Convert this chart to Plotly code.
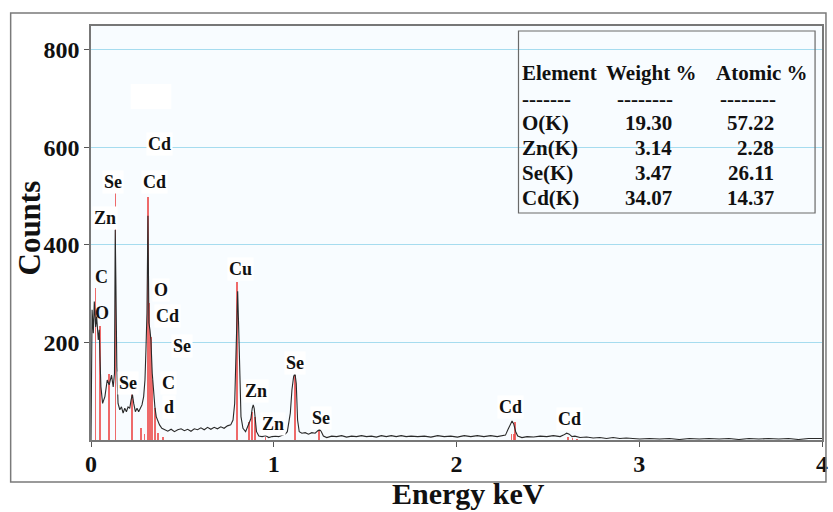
import plotly.graph_objects as go

# ---- spectrum (black trace) ----
energy = [0.0, 0.003, 0.006, 0.0127, 0.0181, 0.0254, 0.0308, 0.0399, 0.0453, 0.0489, 0.0543,
          0.0634, 0.0761, 0.0888, 0.0996, 0.1123, 0.1214, 0.1286, 0.1308, 0.1326, 0.136, 0.1413,
          0.148, 0.1576, 0.1667, 0.1757, 0.1848, 0.1938, 0.2029, 0.212, 0.2192, 0.2264, 0.2337,
          0.2428, 0.2518, 0.2609, 0.27, 0.279, 0.2881, 0.2953, 0.3007, 0.3062, 0.3116, 0.317,
          0.3225, 0.3279, 0.3351, 0.3424, 0.3496, 0.3569, 0.3659, 0.375, 0.3877, 0.4022, 0.4203,
          0.4384, 0.4565, 0.4746, 0.4928, 0.5109, 0.529, 0.5471, 0.5652, 0.5833, 0.6014, 0.6196,
          0.6377, 0.6558, 0.6739, 0.692, 0.7101, 0.7283, 0.7464, 0.7645, 0.7772, 0.7862, 0.7935,
          0.7989, 0.8025, 0.808, 0.8134, 0.8207, 0.8315, 0.846, 0.8569, 0.8678, 0.875, 0.8822,
          0.8877, 0.8931, 0.8986, 0.9058, 0.9185, 0.9366, 0.9547, 0.9728, 0.9909, 1.009, 1.0272,
          1.0453, 1.0634, 1.0743, 1.0815, 1.0906, 1.0996, 1.1087, 1.1159, 1.1232, 1.1304, 1.1395,
          1.154, 1.1721, 1.1902, 1.2083, 1.2264, 1.2391, 1.25, 1.2591, 1.2717, 1.2899, 1.317,
          1.3442, 1.3714, 1.3986, 1.4257, 1.4529, 1.4801, 1.5072, 1.5344, 1.5616, 1.5888, 1.6159,
          1.6431, 1.6703, 1.6975, 1.7246, 1.7518, 1.788, 1.824, 1.86, 1.897, 1.933, 1.969, 2.005,
          2.042, 2.078, 2.114, 2.15, 2.187, 2.223, 2.25, 2.268, 2.281, 2.292, 2.304, 2.313, 2.324,
          2.335, 2.358, 2.386, 2.422, 2.458, 2.494, 2.53, 2.567, 2.585, 2.603, 2.617, 2.632, 2.648,
          2.676, 2.712, 2.748, 2.784, 2.821, 2.857, 2.893, 2.929, 2.966, 3.002, 3.056, 3.111,
          3.165, 3.219, 3.274, 3.328, 3.382, 3.437, 3.491, 3.545, 3.6, 3.654, 3.708, 3.763,
          3.817, 3.871, 3.926, 3.98, 4.0]
counts = [0, 150, 267, 219, 284, 232, 253, 205, 226, 171, 109,
          75, 89, 123, 113, 133, 109, 137, 300, 431, 330, 150,
          75, 62, 68, 55, 65, 58, 68, 65, 82, 94, 75,
          58, 65, 58, 65, 72, 89, 123, 185, 260, 460, 240,
          226, 205, 137, 89, 68, 48, 38, 31, 24, 21, 18,
          22, 17, 21, 23, 19, 22, 18, 23, 21, 25, 21,
          26, 22, 26, 23, 27, 24, 29, 31, 41, 75, 185,
          274, 305, 232, 123, 48, 24, 17, 27, 36, 44, 65,
          72, 65, 41, 17, 8, 7, 9, 5, 7, 8, 7,
          9, 12, 17, 31, 55, 103, 130, 137, 116, 41, 17,
          14, 15, 12, 15, 14, 19, 22, 18, 8, 5, 8,
          7, 9, 6, 8, 7, 9, 7, 8, 6, 9, 7,
          9, 7, 9, 7, 8, 7, 8, 6, 9, 7, 8, 6,
          9, 7, 9, 7, 9, 7, 8, 10, 21, 29, 39, 33, 17,
          8, 5, 7, 6, 8, 7, 9, 7, 10, 14, 12, 7, 8,
          5, 6, 4, 5, 3, 5, 3, 4, 3, 2, 3, 2,
          3, 1, 3, 2, 3, 2, 3, 1, 3, 2, 3, 2,
          3, 1, 3, 2, 3]

# ---- element marker lines (red) ----
line_energy = [0.025, 0.049, 0.10, 0.134, 0.226, 0.273, 0.293, 0.313, 0.320, 0.327, 0.336,
               0.350, 0.368, 0.393, 0.80, 0.864, 0.882, 0.897, 0.955, 1.118, 1.248,
               2.300, 2.313, 2.320, 2.610, 2.635, 2.660]
line_height = [311, 234, 135, 507, 94, 25, 12, 499, 280, 212, 123,
               65, 14, 6, 325, 36, 58, 48, 7, 133, 19,
               12, 12, 36, 7, 4, 3]

# ---- peak labels ----
label_text = ["Cd", "Se", "Cd", "Zn", "C", "O", "O", "Cd", "Se", "Se", "C", "d",
              "Cu", "Zn", "Zn", "Se", "Se", "Cd", "Cd"]
label_x = [0.375, 0.12, 0.348, 0.076, 0.06, 0.06, 0.385, 0.42, 0.50, 0.203, 0.425, 0.425,
           0.82, 0.904, 0.995, 1.118, 1.257, 2.295, 2.618]
label_y = [607, 529, 529, 455, 335, 260, 308, 254, 193, 117, 117, 68,
           351, 100, 33, 158, 45, 68, 43]
label_bg = [True, True, True, True, False, False, True, True, True, True, True, True,
            True, True, True, True, True, True, True]

# ---- composition table ----
table_header = ["Element", "Weight %", "Atomic %"]
table_elements = ["O(K)", "Zn(K)", "Se(K)", "Cd(K)"]
table_weight = ["19.30", "3.14", "3.47", "34.07"]
table_atomic = ["57.22", "2.28", "26.11", "14.37"]

SERIF = "Liberation Serif, Times New Roman, serif"

# geometry helpers (pixel -> paper) for the 833x512 canvas
L, R, T, B = 91, 5, 26, 72
W, H = 833, 512
PW, PH = W - L - R, H - T - B


def px(x):
    return (x - L) / PW


def py(y):
    return (H - B - y) / PH


def bold(size):
    return dict(family=SERIF, size=size, color="#111", weight="bold")


fig = go.Figure()
fig.add_trace(go.Bar(x=line_energy, y=line_height, width=0.009,
                     marker=dict(color="rgba(236,80,80,0.85)", line=dict(width=0)),
                     hoverinfo="skip", showlegend=False))
fig.add_trace(go.Scatter(x=energy, y=counts, mode="lines",
                         line=dict(color="#2a2a2a", width=1.1), showlegend=False))

annotations = []
for t, x, y, bg in zip(label_text, label_x, label_y, label_bg):
    annotations.append(dict(x=x, y=y, xref="x", yref="y", text=t, showarrow=False,
                            xanchor="center", yanchor="middle", font=bold(18),
                            bgcolor="white" if bg else "rgba(0,0,0,0)", borderpad=1))


def paper_text(x, y, text, anchor, size):
    annotations.append(dict(x=px(x), y=py(y), xref="paper", yref="paper", text=text,
                            xanchor=anchor, yanchor="middle", showarrow=False, font=bold(size)))


# table text
row_y = [73, 99, 123, 148, 173, 198]
TS = 21
paper_text(524, row_y[0], table_header[0], "left", TS)
paper_text(608, row_y[0], table_header[1], "left", TS)
paper_text(719, row_y[0], table_header[2], "left", TS)
paper_text(524, row_y[1], "-------", "left", TS)
paper_text(680, row_y[1], "--------", "right", TS)
paper_text(784, row_y[1], "--------", "right", TS)
for i, (e, w, a) in enumerate(zip(table_elements, table_weight, table_atomic)):
    paper_text(524, row_y[2 + i], e, "left", TS)
    paper_text(679, row_y[2 + i], w, "right", TS)
    paper_text(782, row_y[2 + i], a, "right", TS)

# axis titles
paper_text(472, 494, "Energy keV", "center", 30)
annotations.append(dict(x=px(29), y=py(228), xref="paper", yref="paper", text="Counts",
                        textangle=-90, xanchor="center", yanchor="middle",
                        showarrow=False, font=bold(31)))

shapes = [
    dict(type="rect", xref="paper", yref="paper", x0=px(10), x1=px(832), y0=py(482), y1=py(13),
         line=dict(color="#7a7a7a", width=1.5), layer="above"),
    dict(type="rect", xref="paper", yref="paper", x0=px(522), x1=px(821), y0=py(213), y1=py(31),
         line=dict(color="#6a6a6a", width=1.2), layer="above"),
    dict(type="rect", xref="paper", yref="paper", x0=px(131), x1=px(172), y0=py(109), y1=py(84),
         line=dict(width=0), fillcolor="white", layer="above"),
]

fig.update_layout(
    width=W, height=H,
    margin=dict(l=L, r=R, t=T, b=B),
    paper_bgcolor="white",
    plot_bgcolor="#f8fcff",
    bargap=0,
    annotations=annotations,
    shapes=shapes,
    xaxis=dict(range=[0, 4], tickvals=[0, 1, 2, 3, 4], ticks="outside", ticklen=5,
               tickcolor="#555", showgrid=False, zeroline=False, showline=True,
               linecolor="#777", linewidth=1.5, mirror=True, ticklabelstandoff=-4,
               tickfont=bold(24)),
    yaxis=dict(range=[0, 849], tickvals=[200, 400, 600, 800], ticks="outside", ticklen=5,
               tickcolor="#555", showgrid=True, gridcolor="#a6dcef", gridwidth=1.3,
               zeroline=False, showline=True, linecolor="#777", linewidth=1.5, mirror=True,
               tickfont=bold(24)),
)

fig.write_html("out.html")
